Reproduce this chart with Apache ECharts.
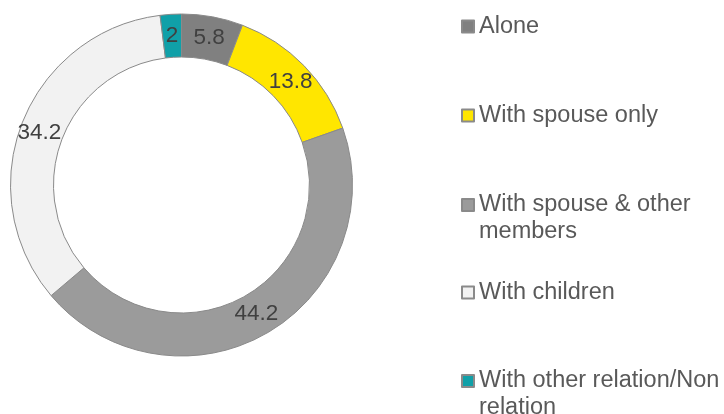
<!DOCTYPE html>
<html>
<head>
<meta charset="utf-8">
<script src="https://cdn.jsdelivr.net/npm/echarts@6/dist/echarts.min.js"></script>
<style>
html,body{margin:0;padding:0;background:#fff;}
#chart{width:724px;height:414px;}
</style>
</head>
<body>
<div id="chart"></div>
<script>
var categories = ['Alone', 'With spouse only', 'With spouse & other\nmembers', 'With children', 'With other relation/Non\nrelation'];
var values = [5.8, 13.8, 44.2, 34.2, 2];
var colors = ['#808080', '#FFE600', '#9B9B9B', '#F2F2F2', '#10A0A8'];

var legendTops = [13, 102, 164.5, 279, 340.5];

var chart = echarts.init(document.getElementById('chart'), null, {renderer: 'canvas'});

var data = categories.map(function (c, i) {
  var item = { name: c, value: values[i], itemStyle: { color: colors[i] } };
  if (i === 2) { item.label = { offset: [-1, -3] }; }
  return item;
});

var legends = categories.map(function (c, i) {
  var twoLine = c.indexOf('\n') >= 0;
  return {
    orient: 'vertical',
    left: 461,
    top: legendTops[i],
    padding: 0,
    icon: 'rect',
    itemWidth: 12,
    itemHeight: 12,
    selectedMode: false,
    data: [c],
    formatter: function (name) { return twoLine ? ' \n' + name : name; },
    textStyle: {
      fontFamily: 'Liberation Sans, Arial, sans-serif',
      fontSize: 23.5,
      lineHeight: 27,
      color: '#595959'
    }
  };
});

chart.setOption({
  animation: false,
  backgroundColor: '#ffffff',
  legend: legends,
  series: [{
    type: 'pie',
    center: [181.5, 185],
    radius: [128, 171],
    startAngle: 90,
    clockwise: true,
    avoidLabelOverlap: false,
    itemStyle: { borderColor: '#8a8a8a', borderWidth: 1 },
    label: {
      show: true,
      position: 'inside',
      formatter: '{c}',
      offset: [0, 3],
      fontFamily: 'Liberation Sans, Arial, sans-serif',
      fontSize: 22.5,
      color: '#404040'
    },
    labelLine: { show: false },
    emphasis: { disabled: true },
    data: data
  }]
});
</script>
</body>
</html>
